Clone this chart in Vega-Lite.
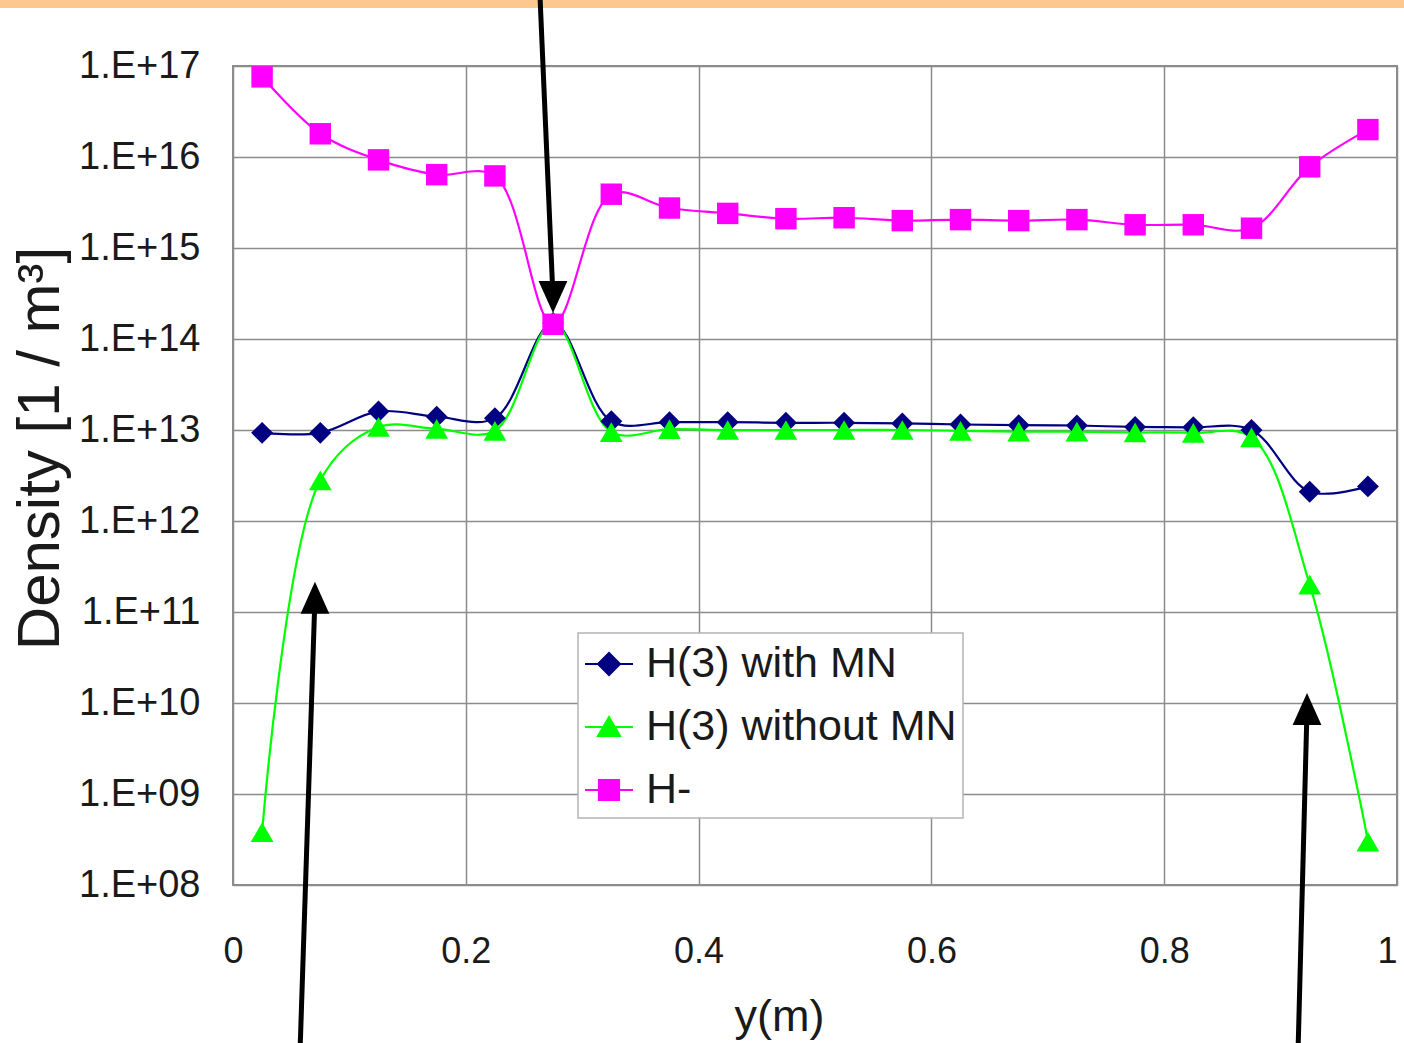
{
  "$schema": "https://vega.github.io/schema/vega-lite/v6.json",
  "width": 1164,
  "height": 819,
  "autosize": {"type": "none"},
  "padding": {"left": 233, "top": 66, "right": 7, "bottom": 158},
  "background": "white",
  "config": {
    "view": {"stroke": "#8c8c8c", "strokeWidth": 2},
    "axis": {
      "grid": true,
      "gridColor": "#8c8c8c",
      "gridWidth": 1.5,
      "domain": false,
      "ticks": false,
      "labelColor": "#1a1a1a",
      "titleColor": "#1a1a1a",
      "labelFont": "Liberation Sans, sans-serif",
      "titleFontWeight": "normal",
      "labelOverlap": false
    }
  },
  "datasets": {
    "series": [
      {"x": 0.025, "v": 9.3e12, "s": "H(3) with MN"},
      {"x": 0.075, "v": 9.3e12, "s": "H(3) with MN"},
      {"x": 0.125, "v": 1.6e13, "s": "H(3) with MN"},
      {"x": 0.175, "v": 1.4e13, "s": "H(3) with MN"},
      {"x": 0.225, "v": 1.35e13, "s": "H(3) with MN"},
      {"x": 0.275, "v": 1.5e14, "s": "H(3) with MN"},
      {"x": 0.325, "v": 1.25e13, "s": "H(3) with MN"},
      {"x": 0.375, "v": 1.22e13, "s": "H(3) with MN"},
      {"x": 0.425, "v": 1.22e13, "s": "H(3) with MN"},
      {"x": 0.475, "v": 1.2e13, "s": "H(3) with MN"},
      {"x": 0.525, "v": 1.2e13, "s": "H(3) with MN"},
      {"x": 0.575, "v": 1.18e13, "s": "H(3) with MN"},
      {"x": 0.625, "v": 1.15e13, "s": "H(3) with MN"},
      {"x": 0.675, "v": 1.13e13, "s": "H(3) with MN"},
      {"x": 0.725, "v": 1.12e13, "s": "H(3) with MN"},
      {"x": 0.775, "v": 1.08e13, "s": "H(3) with MN"},
      {"x": 0.825, "v": 1.07e13, "s": "H(3) with MN"},
      {"x": 0.875, "v": 1.0e13, "s": "H(3) with MN"},
      {"x": 0.925, "v": 2.1e12, "s": "H(3) with MN"},
      {"x": 0.975, "v": 2.4e12, "s": "H(3) with MN"},
      {"x": 0.025, "v": 3.8e8, "s": "H(3) without MN"},
      {"x": 0.075, "v": 2.8e12, "s": "H(3) without MN"},
      {"x": 0.125, "v": 1.08e13, "s": "H(3) without MN"},
      {"x": 0.175, "v": 1.03e13, "s": "H(3) without MN"},
      {"x": 0.225, "v": 9.8e12, "s": "H(3) without MN"},
      {"x": 0.275, "v": 1.5e14, "s": "H(3) without MN"},
      {"x": 0.325, "v": 9.5e12, "s": "H(3) without MN"},
      {"x": 0.375, "v": 1.02e13, "s": "H(3) without MN"},
      {"x": 0.425, "v": 1.0e13, "s": "H(3) without MN"},
      {"x": 0.475, "v": 1.0e13, "s": "H(3) without MN"},
      {"x": 0.525, "v": 1.0e13, "s": "H(3) without MN"},
      {"x": 0.575, "v": 1.0e13, "s": "H(3) without MN"},
      {"x": 0.625, "v": 9.8e12, "s": "H(3) without MN"},
      {"x": 0.675, "v": 9.6e12, "s": "H(3) without MN"},
      {"x": 0.725, "v": 9.6e12, "s": "H(3) without MN"},
      {"x": 0.775, "v": 9.4e12, "s": "H(3) without MN"},
      {"x": 0.825, "v": 9.3e12, "s": "H(3) without MN"},
      {"x": 0.875, "v": 8.3e12, "s": "H(3) without MN"},
      {"x": 0.925, "v": 2.0e11, "s": "H(3) without MN"},
      {"x": 0.975, "v": 3.0e8, "s": "H(3) without MN"},
      {"x": 0.025, "v": 7.6e16, "s": "H-"},
      {"x": 0.075, "v": 1.8e16, "s": "H-"},
      {"x": 0.125, "v": 9.3e15, "s": "H-"},
      {"x": 0.175, "v": 6.4e15, "s": "H-"},
      {"x": 0.225, "v": 6.2e15, "s": "H-"},
      {"x": 0.275, "v": 1.45e14, "s": "H-"},
      {"x": 0.325, "v": 3.9e15, "s": "H-"},
      {"x": 0.375, "v": 2.75e15, "s": "H-"},
      {"x": 0.425, "v": 2.4e15, "s": "H-"},
      {"x": 0.475, "v": 2.1e15, "s": "H-"},
      {"x": 0.525, "v": 2.15e15, "s": "H-"},
      {"x": 0.575, "v": 2.0e15, "s": "H-"},
      {"x": 0.625, "v": 2.05e15, "s": "H-"},
      {"x": 0.675, "v": 2.0e15, "s": "H-"},
      {"x": 0.725, "v": 2.05e15, "s": "H-"},
      {"x": 0.775, "v": 1.8e15, "s": "H-"},
      {"x": 0.825, "v": 1.8e15, "s": "H-"},
      {"x": 0.875, "v": 1.65e15, "s": "H-"},
      {"x": 0.925, "v": 7.8e15, "s": "H-"},
      {"x": 0.975, "v": 2.0e16, "s": "H-"}
    ],
    "arrows": [
      {"x": 0.2637, "v": 6.0e17, "x2": 0.2749, "v2": 2.9e14, "dir": "down"},
      {"x": 0.0576, "v": 1.5e6, "x2": 0.0704, "v2": 1.43e11, "dir": "up"},
      {"x": 0.915, "v": 1.5e6, "x2": 0.9227, "v2": 8.6e9, "dir": "up"}
    ],
    "band": [
      {"x": -0.5, "x2": 1.5, "v": 4.35e17, "v2": 1e19}
    ]
  },
  "layer": [
    {
      "data": {"name": "band"},
      "mark": {"type": "rect", "color": "#fdc88f", "clip": false},
      "encoding": {
        "x": {"field": "x", "type": "quantitative", "scale": {"domain": [0, 1], "nice": false, "zero": false}},
        "x2": {"field": "x2"},
        "y": {"field": "v", "type": "quantitative", "scale": {"type": "log", "domain": [1e8, 1e17], "nice": false}},
        "y2": {"field": "v2"}
      }
    },
    {
      "data": {"name": "series"},
      "mark": {"type": "line", "interpolate": "catmull-rom", "strokeWidth": 2.2},
      "encoding": {
        "x": {
          "field": "x", "type": "quantitative",
          "scale": {"domain": [0, 1], "nice": false, "zero": false},
          "axis": {
            "values": [0, 0.2, 0.4, 0.6, 0.8, 1],
            "labelExpr": "format(datum.value, '~g')",
            "labelFontSize": 36,
            "labelPadding": 49,
            "labelFlush": false,
            "labelAlign": {"condition": {"test": "datum.value == 1", "value": "right"}, "value": "center"},
            "title": "y(m)",
            "titleFont": "Liberation Sans, sans-serif",
            "titleFontSize": 45,
            "titleX": 546,
            "titleY": 145,
            "titleAlign": "center",
            "titleBaseline": "alphabetic"
          }
        },
        "y": {
          "field": "v", "type": "quantitative",
          "scale": {"type": "log", "domain": [1e8, 1e17], "nice": false},
          "axis": {
            "values": [1e8, 1e9, 1e10, 1e11, 1e12, 1e13, 1e14, 1e15, 1e16, 1e17],
            "labelExpr": "'1.E+' + format(round(log(datum.value) / LN10), '02d')",
            "labelFontSize": 38,
            "labelPadding": 33,
            "labelBaseline": "middle",
            "title": "Density [1 / m³]",
            "titleFont": "Liberation Sans, sans-serif",
            "titleFontSize": 60,
            "titleAngle": -90,
            "titleX": -193,
            "titleY": 382,
            "titleAlign": "center",
            "titleBaseline": "middle"
          }
        },
        "color": {
          "field": "s", "type": "nominal",
          "scale": {"domain": ["H(3) with MN", "H(3) without MN", "H-"], "range": ["#000080", "#00ff00", "#ff00ff"]},
          "legend": {
            "title": null,
            "orient": "none",
            "legendX": 345,
            "legendY": 567,
            "direction": "vertical",
            "fillColor": "white",
            "strokeColor": "#b4b4b4",
            "padding": 6,
            "rowPadding": 16,
            "labelFont": "Liberation Sans, sans-serif",
            "labelFontSize": 43,
            "labelColor": "#1a1a1a",
            "labelLimit": 600,
            "labelOffset": 12,
            "symbolSize": 2304,
            "encode": {
              "legend": {"update": {"strokeWidth": {"value": 1.5}}},
              "symbols": {
                "update": {
                  "shape": {"signal": "datum.value == 'H-' ? 'M-1,0L1,0M-0.42,-0.42L0.42,-0.42L0.42,0.42L-0.42,0.42Z' : (datum.value == 'H(3) with MN' ? 'M-1,0L1,0M-0.46,0L0,-0.46L0.46,0L0,0.46Z' : 'M-1,0L1,0M0,-0.42L0.46,0.38L-0.46,0.38Z')"},
                  "fill": {"signal": "scale('color', datum.value)"},
                  "stroke": {"signal": "scale('color', datum.value)"},
                  "strokeWidth": {"value": 2},
                  "size": {"value": 2304},
                  "opacity": {"value": 1},
                  "fillOpacity": {"value": 1}
                }
              }
            }
          }
        }
      }
    },
    {
      "data": {"name": "series"},
      "transform": [{"filter": "datum.s == 'H(3) with MN'"}],
      "mark": {"type": "point", "filled": true, "opacity": 1, "size": 480, "strokeWidth": 0, "shape": "diamond"},
      "encoding": {
        "x": {"field": "x", "type": "quantitative", "scale": {"domain": [0, 1], "nice": false, "zero": false}},
        "y": {"field": "v", "type": "quantitative", "scale": {"type": "log", "domain": [1e8, 1e17], "nice": false}},
        "color": {"field": "s", "type": "nominal"}
      }
    },
    {
      "data": {"name": "series"},
      "transform": [{"filter": "datum.s == 'H(3) without MN'"}],
      "mark": {"type": "point", "filled": true, "opacity": 1, "size": 520, "strokeWidth": 0, "shape": "triangle-up"},
      "encoding": {
        "x": {"field": "x", "type": "quantitative", "scale": {"domain": [0, 1], "nice": false, "zero": false}},
        "y": {"field": "v", "type": "quantitative", "scale": {"type": "log", "domain": [1e8, 1e17], "nice": false}},
        "color": {"field": "s", "type": "nominal"}
      }
    },
    {
      "data": {"name": "series"},
      "transform": [{"filter": "datum.s == 'H-'"}],
      "mark": {"type": "point", "filled": true, "opacity": 1, "size": 460, "strokeWidth": 0, "shape": "square"},
      "encoding": {
        "x": {"field": "x", "type": "quantitative", "scale": {"domain": [0, 1], "nice": false, "zero": false}},
        "y": {"field": "v", "type": "quantitative", "scale": {"type": "log", "domain": [1e8, 1e17], "nice": false}},
        "color": {"field": "s", "type": "nominal"}
      }
    },
    {
      "data": {"name": "arrows"},
      "mark": {"type": "rule", "color": "black", "strokeWidth": 5, "clip": false},
      "encoding": {
        "x": {"field": "x", "type": "quantitative", "scale": {"domain": [0, 1], "nice": false, "zero": false}},
        "x2": {"field": "x2"},
        "y": {"field": "v", "type": "quantitative", "scale": {"type": "log", "domain": [1e8, 1e17], "nice": false}},
        "y2": {"field": "v2"}
      }
    },
    {
      "data": {"name": "arrows"},
      "transform": [{"filter": "datum.dir == 'up'"}],
      "mark": {"type": "point", "filled": true, "color": "black", "opacity": 1, "size": 1024, "strokeWidth": 0, "shape": "M0,-1L0.9,1L-0.9,1Z", "clip": false},
      "encoding": {
        "x": {"field": "x2", "type": "quantitative", "scale": {"domain": [0, 1], "nice": false, "zero": false}},
        "y": {"field": "v2", "type": "quantitative", "scale": {"type": "log", "domain": [1e8, 1e17], "nice": false}}
      }
    },
    {
      "data": {"name": "arrows"},
      "transform": [{"filter": "datum.dir == 'down'"}],
      "mark": {"type": "point", "filled": true, "color": "black", "opacity": 1, "size": 1024, "strokeWidth": 0, "shape": "M0,1L0.9,-1L-0.9,-1Z", "clip": false},
      "encoding": {
        "x": {"field": "x2", "type": "quantitative", "scale": {"domain": [0, 1], "nice": false, "zero": false}},
        "y": {"field": "v2", "type": "quantitative", "scale": {"type": "log", "domain": [1e8, 1e17], "nice": false}}
      }
    }
  ]
}
